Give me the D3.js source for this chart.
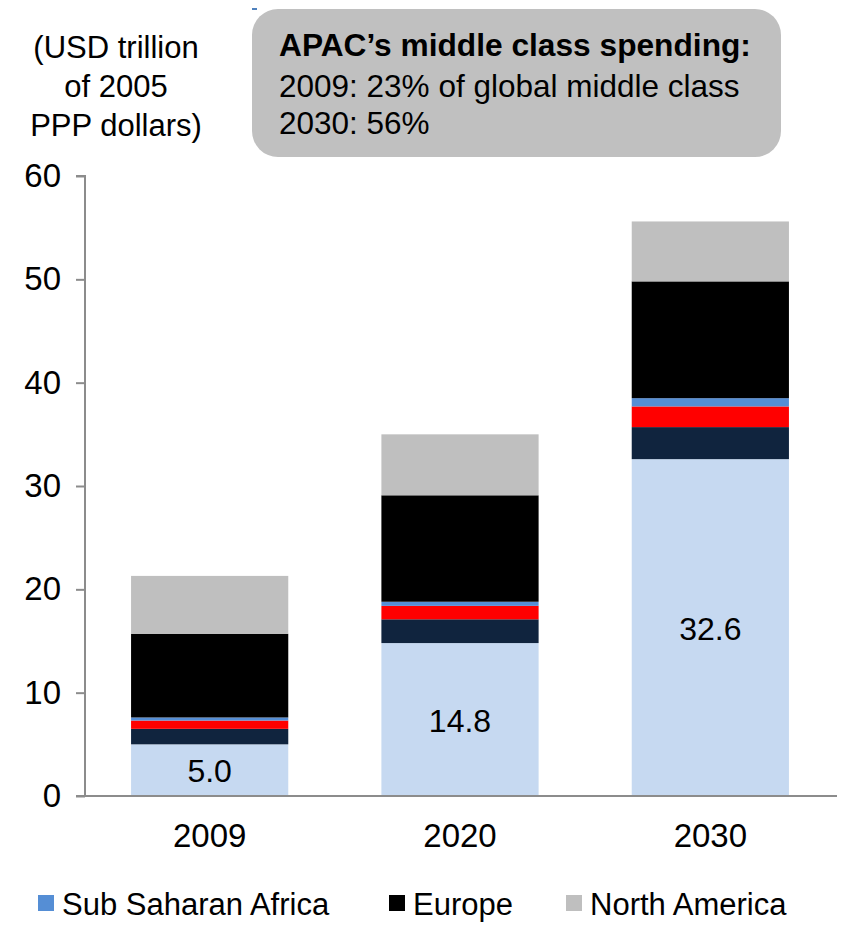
<!DOCTYPE html>
<html>
<head>
<meta charset="utf-8">
<script src="https://cdn.jsdelivr.net/npm/d3@7/dist/d3.min.js"></script>
<style>
  html, body { margin: 0; padding: 0; background: #fff; }
  svg text { font-family: "Liberation Sans", Arial, sans-serif; fill: #000; }
</style>
</head>
<body>
<svg id="chart" width="846" height="930"></svg>
<script>
// ---- data ----
const years = ["2009", "2020", "2030"];
const seriesNames = ["Asia Pacific", "Central and South America", "Middle East and North Africa", "Sub Saharan Africa", "Europe", "North America"];
const seriesColors = ["#C6D9F1", "#10243E", "#FF0000", "#558ED5", "#000000", "#BFBFBF"];
const apac      = [5.0, 14.8, 32.6];
const csAmerica = [1.5, 2.3, 3.1];
const mena      = [0.8, 1.3, 2.0];
const ssAfrica  = [0.3, 0.4, 0.8];
const europe    = [8.1, 10.3, 11.3];
const nAmerica  = [5.6, 5.9, 5.8];
const yTicks = [0, 10, 20, 30, 40, 50, 60];
const legendNames = ["Sub Saharan Africa", "Europe", "North America"];
const yTitle = ["(USD trillion", "of 2005", "PPP dollars)"];
const boxTitle = "APAC\u2019s middle class spending:";
const boxLines = ["2009: 23% of global middle class", "2030: 56%"];

const valuesBySeries = [apac, csAmerica, mena, ssAfrica, europe, nAmerica];
const table = years.map((y, i) => {
  const row = { year: y };
  seriesNames.forEach((s, k) => row[s] = valuesBySeries[k][i]);
  return row;
});

const FONT = "Liberation Sans, Arial, sans-serif";
const svg = d3.select("#chart");
const x = d3.scaleBand().domain(years).range([85, 835]).paddingInner(0.372).paddingOuter(0.184);
const y = d3.scaleLinear().domain([0, 60]).range([796, 176]);
const color = d3.scaleOrdinal().domain(seriesNames).range(seriesColors);

const stack = d3.stack().keys(seriesNames)(table);

// bars
svg.append("g").selectAll("g").data(stack).join("g")
  .attr("fill", d => color(d.key))
  .selectAll("rect").data(d => d).join("rect")
  .attr("x", d => x(d.data.year))
  .attr("width", x.bandwidth())
  .attr("y", d => y(d[1]))
  .attr("height", d => y(d[0]) - y(d[1]));

// APAC labels
svg.append("g").selectAll("text").data(stack[0]).join("text")
  .attr("x", d => x(d.data.year) + x.bandwidth() / 2)
  .attr("y", d => (y(d[0]) + y(d[1])) / 2)
  .attr("dy", "0.38em")
  .attr("text-anchor", "middle")
  .attr("font-size", 32)
  .text(d => d.data["Asia Pacific"].toFixed(1));

// y axis
const yAxis = svg.append("g").attr("transform", "translate(85,0)")
  .call(d3.axisLeft(y).tickValues(yTicks).tickSize(9).tickPadding(15).tickFormat(d3.format("d")));
yAxis.selectAll("path, line").attr("stroke", "#8c8c8c").attr("stroke-width", 2);
yAxis.select(".domain").attr("d", "M-9,176H0V796H-9");
yAxis.selectAll("text").attr("font-size", 33).attr("font-family", FONT).attr("fill", "#000");

// x axis
const xAxis = svg.append("g").attr("transform", "translate(0,796)")
  .call(d3.axisBottom(x).tickSize(0).tickPadding(28));
xAxis.select(".domain").attr("stroke", "#8c8c8c").attr("stroke-width", 2).attr("d", "M85,0H837");
xAxis.selectAll("text").attr("font-size", 33).attr("font-family", FONT).attr("fill", "#000");

// y title
svg.append("g").selectAll("text").data(yTitle).join("text")
  .attr("x", 116).attr("y", (d, i) => 58 + i * 39)
  .attr("text-anchor", "middle").attr("font-size", 31)
  .text(d => d);

// callout box
svg.append("rect").attr("x", 252).attr("y", 9).attr("width", 529).attr("height", 148)
  .attr("rx", 26).attr("ry", 26).attr("fill", "#C0C0C0");
svg.append("rect").attr("x", 252).attr("y", 8).attr("width", 5).attr("height", 2).attr("fill", "#4F81BD");
svg.append("text").attr("x", 279).attr("y", 56).attr("font-size", 31.7).attr("font-weight", "bold").text(boxTitle);
svg.append("g").selectAll("text").data(boxLines).join("text")
  .attr("x", 279).attr("y", (d, i) => 97 + i * 37).attr("font-size", 31.5).text(d => d);

// legend
const legendX = [38, 389, 566];
const lg = svg.append("g").selectAll("g").data(legendNames).join("g")
  .attr("transform", (d, i) => `translate(${legendX[i]},895)`);
lg.append("rect").attr("width", 16).attr("height", 16).attr("fill", d => color(d));
lg.append("text").attr("x", 24).attr("y", 20).attr("font-size", 31).text(d => d);
</script>
</body>
</html>
